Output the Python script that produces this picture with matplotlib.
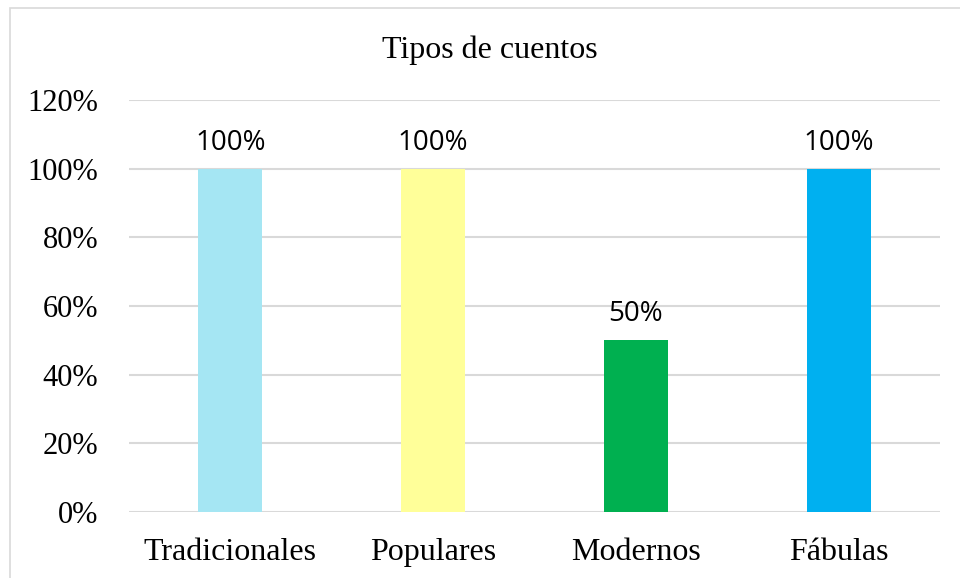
import matplotlib
matplotlib.use("Agg")
import matplotlib.pyplot as plt
from matplotlib.patches import Rectangle

categories = ["Tradicionales", "Populares", "Modernos", "Fábulas"]
values = [1.00, 1.00, 0.50, 1.00]
value_labels = ["100%", "100%", "50%", "100%"]
colors = ["#A5E6F3", "#FFFF99", "#00B050", "#00B0F0"]
yticks = [0, 0.2, 0.4, 0.6, 0.8, 1.0, 1.2]
ytick_labels = ["0%", "20%", "40%", "60%", "80%", "100%", "120%"]
title = "Tipos de cuentos"

serif = "Liberation Serif"
sans = "Open Sans"

fig = plt.figure(figsize=(9.6, 5.78), dpi=100)
fig.patches.append(Rectangle((10/960, -0.1), 2.0, 1.1 - 8/578, transform=fig.transFigure,
                             fill=False, edgecolor="#D9D9D9", linewidth=1.2))
ax = fig.add_axes([129/960, 1 - 512/578, (940 - 129)/960, (512 - 100)/578])

x = range(len(categories))
ax.bar(x, values, width=0.315, color=colors, zorder=3)
for xi, v, lab in zip(x, values, value_labels):
    ax.text(xi, v + 0.055, lab, ha="center", va="baseline", fontsize=20, family=sans, color="#000000")

ax.set_xlim(-0.5, len(categories) - 0.5)
ax.set_ylim(0, 1.2)
ax.set_yticks(yticks)
ax.set_yticklabels(ytick_labels, family=serif, fontsize=22)
ax.set_xticks(list(x))
ax.set_xticklabels(categories, family=serif, fontsize=23)
ax.tick_params(axis="both", length=0)
ax.tick_params(axis="y", pad=22)
ax.tick_params(axis="x", pad=18.5)
ax.grid(axis="y", color="#D9D9D9", linewidth=1.5, zorder=0)
for s in ax.spines.values():
    s.set_visible(False)
ax.set_axisbelow(True)

fig.text(490/960, 1 - 50/578, title, ha="center", va="center", family=serif, fontsize=23)

fig.savefig("out.png", dpi=100)
